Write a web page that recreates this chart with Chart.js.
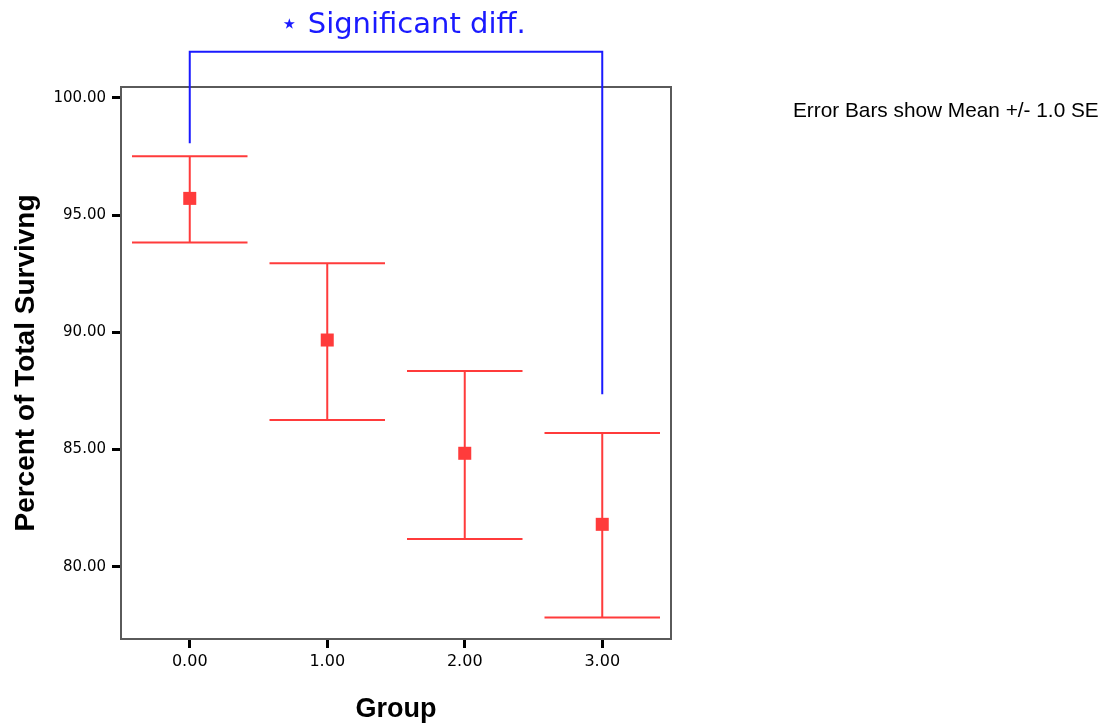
<!DOCTYPE html>
<html>
<head>
<meta charset="utf-8">
<script src="https://cdn.jsdelivr.net/npm/chart.js@4/dist/chart.umd.min.js"></script>
<style>
  html, body { margin: 0; padding: 0; background: #ffffff; }
  #wrap { width: 1112px; height: 726px; position: relative; }
</style>
</head>
<body>
<div id="wrap"><canvas id="c" width="1112" height="726"></canvas></div>
<script>
// ---- data ----
const groups = [0, 1, 2, 3];
const means = [95.71, 89.67, 84.84, 81.81];
const upperSE = [97.51, 92.94, 88.35, 85.70];
const lowerSE = [93.83, 86.26, 81.18, 77.84];
const yTicks = [80, 85, 90, 95, 100];
const xTicks = [0, 1, 2, 3];
const bracketX = [0, 0, 3, 3];
const bracketY = [98.06, 101.96, 101.96, 87.36];
const annotationText = '\u22c6 Significant diff.';
const noteText = 'Error Bars show Mean +/- 1.0 SE';
const xTitle = 'Group';
const yTitle = 'Percent of Total Survivng';

const RED = '#ff3b3b';
const BLUE = '#1a1aff';

const errorBarPlugin = {
  id: 'errorBars',
  beforeDatasetsDraw(chart) {
    const {ctx, scales: {x, y}, chartArea: a} = chart;
    ctx.save();
    // plot frame
    ctx.strokeStyle = '#5a5a5a';
    ctx.lineWidth = 2;
    ctx.strokeRect(a.left, a.top, a.right - a.left, a.bottom - a.top);
    // error bars
    ctx.strokeStyle = RED;
    ctx.lineWidth = 2;
    const capHalf = 0.42;
    groups.forEach((g, i) => {
      const px = x.getPixelForValue(g);
      const pu = y.getPixelForValue(upperSE[i]);
      const pl = y.getPixelForValue(lowerSE[i]);
      const cl = x.getPixelForValue(g - capHalf);
      const cr = x.getPixelForValue(g + capHalf);
      ctx.beginPath();
      ctx.moveTo(px, pu); ctx.lineTo(px, pl);
      ctx.moveTo(cl, pu); ctx.lineTo(cr, pu);
      ctx.moveTo(cl, pl); ctx.lineTo(cr, pl);
      ctx.stroke();
    });
    ctx.restore();
  },
  afterDraw(chart) {
    const {ctx, scales: {x}} = chart;
    ctx.save();
    ctx.fillStyle = BLUE;
    ctx.font = '29px "DejaVu Sans"';
    ctx.textAlign = 'center';
    ctx.textBaseline = 'alphabetic';
    ctx.fillText(annotationText, (x.getPixelForValue(bracketX[0]) + x.getPixelForValue(bracketX[3])) / 2 + 7, 33);
    ctx.fillStyle = '#000000';
    ctx.font = '20.8px "Liberation Sans"';
    ctx.textAlign = 'left';
    ctx.fillText(noteText, 793, 117);
    ctx.restore();
  }
};

new Chart(document.getElementById('c'), {
  type: 'scatter',
  data: {
    datasets: [
      {
        type: 'line',
        data: bracketX.map((v, i) => ({x: v, y: bracketY[i]})),
        borderColor: BLUE,
        borderWidth: 2,
        pointRadius: 0,
        fill: false,
        tension: 0,
        clip: false
      },
      {
        data: groups.map((g, i) => ({x: g, y: means[i]})),
        pointStyle: 'rect',
        pointRadius: 9.2,
        pointHoverRadius: 9.2,
        backgroundColor: RED,
        borderColor: RED,
        borderWidth: 0
      }
    ]
  },
  options: {
    responsive: false,
    animation: false,
    events: [],
    layout: { padding: { left: 0, top: 87, right: 441, bottom: 0 } },
    plugins: { legend: { display: false }, tooltip: { enabled: false } },
    scales: {
      x: {
        type: 'linear',
        min: -0.5,
        max: 3.5,
        afterFit(s) { s.height = 87; },
        afterBuildTicks(s) { s.ticks = xTicks.map(v => ({value: v})); },
        border: { display: false },
        grid: { display: true, drawOnChartArea: false, drawTicks: true, tickLength: 9, tickWidth: 3, tickColor: '#000000' },
        ticks: {
          padding: 4,
          color: '#000000',
          font: { family: 'DejaVu Sans', size: 16 },
          callback: v => Number(v).toFixed(2),
          maxRotation: 0
        },
        title: {
          display: true,
          text: xTitle,
          color: '#000000',
          font: { family: 'Liberation Sans', size: 27, weight: 'bold' },
          padding: { top: 0, bottom: 0 }
        }
      },
      y: {
        type: 'linear',
        min: 76.92,
        max: 100.46,
        afterFit(s) { s.width = 121; },
        afterBuildTicks(s) { s.ticks = yTicks.map(v => ({value: v})); },
        border: { display: false },
        grid: { display: true, drawOnChartArea: false, drawTicks: true, tickLength: 9, tickWidth: 3, tickColor: '#000000' },
        ticks: {
          padding: 6,
          color: '#000000',
          font: { family: 'DejaVu Sans', size: 15 },
          callback: v => Number(v).toFixed(2)
        },
        title: {
          display: true,
          text: yTitle,
          color: '#000000',
          font: { family: 'Liberation Sans', size: 28, weight: 'bold' },
          padding: { top: 9, bottom: 0 }
        }
      }
    }
  },
  plugins: [errorBarPlugin]
});
</script>
</body>
</html>
